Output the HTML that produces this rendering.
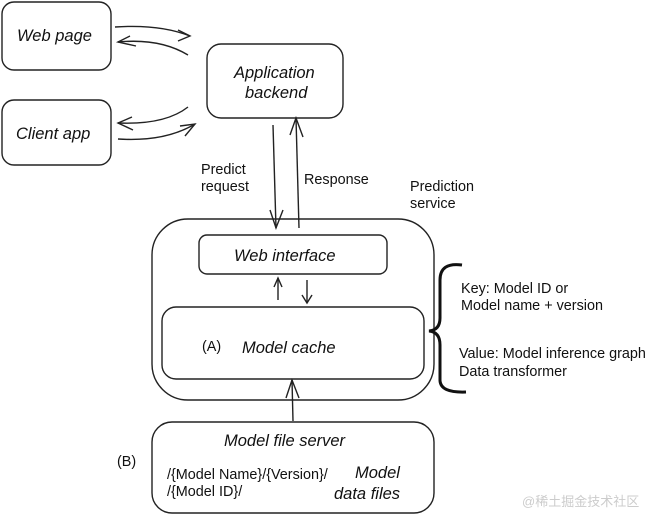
<!DOCTYPE html>
<html><head><style>
html,body{margin:0;padding:0;background:#fff;}
svg{display:block;}
.h{font-family:"Liberation Sans",sans-serif;font-style:italic;font-size:16.5px;fill:#111;}
.t{font-family:"Liberation Sans",sans-serif;font-size:14.4px;fill:#111;}
</style></head><body>
<svg width="648" height="517" viewBox="0 0 648 517" xmlns="http://www.w3.org/2000/svg">
<g fill="none" stroke="#222" stroke-width="1.4">
<rect x="2" y="2" width="109" height="68" rx="12"/>
<rect x="2" y="100" width="109" height="65" rx="12"/>
<rect x="207" y="44" width="136" height="74" rx="14"/>
<rect x="152" y="219" width="282" height="181" rx="36"/>
<rect x="199" y="235" width="188" height="39" rx="8"/>
<rect x="162" y="307" width="262" height="72" rx="14"/>
<rect x="152" y="422" width="282" height="91" rx="20"/>
<path d="M115 27 Q160 24 190 36"/><path d="M178 30 L190 36 L178 41"/>
<path d="M188 55 Q160 38 118 42"/><path d="M130 36 L118 42 L136 46"/>
<path d="M188 107 Q165 125 118 123"/><path d="M132 117 L118 123 L133 130"/>
<path d="M118 139 Q165 142 195 124"/><path d="M180 126 L195 124 L185 136"/>
<path d="M273 125 L276 228"/><path d="M270 210 L276 228 L283 210"/>
<path d="M299 228 L296 118"/><path d="M290 135 L296 118 L303 137"/>
<path d="M278 300 L278 278"/><path d="M274 287 L278 278 L282 287"/>
<path d="M307 280 L307 303"/><path d="M302 295 L307 303 L312 295"/>
<path d="M293 421 L292 380"/><path d="M286 398 L292 380 L299 398"/>
</g>
<path d="M462 265 Q440 262 440 280 L440 318 Q440 330 429 331 Q440 332 440 345 L440 380 Q440 393 466 392" fill="none" stroke="#111" stroke-width="3"/>
<text class="h" x="17" y="41">Web page</text>
<text class="h" x="16" y="139">Client app</text>
<text class="h" x="234" y="78">Application</text>
<text class="h" x="245" y="98">backend</text>
<text class="h" x="234" y="261">Web interface</text>
<text class="t" x="202" y="351">(A)</text>
<text class="h" x="242" y="353">Model cache</text>
<text class="h" x="224" y="446">Model file server</text>
<text class="h" x="355" y="478">Model</text>
<text class="h" x="334" y="499">data files</text>
<text class="t" x="167" y="479">/{Model Name}/{Version}/</text>
<text class="t" x="167" y="496">/{Model ID}/</text>
<text class="t" x="117" y="466">(B)</text>
<text class="t" x="201" y="174">Predict</text>
<text class="t" x="201" y="191">request</text>
<text class="t" x="304" y="184">Response</text>
<text class="t" x="410" y="191">Prediction</text>
<text class="t" x="410" y="208">service</text>
<text class="t" x="461" y="293">Key: Model ID or</text>
<text class="t" x="461" y="310">Model name + version</text>
<text class="t" x="459" y="358">Value: Model inference graph</text>
<text class="t" x="459" y="376">Data transformer</text>
<text x="522" y="506" style="font-family:'Liberation Sans','Noto Sans CJK SC',sans-serif;font-size:13px;fill:#ccc">@稀土掘金技术社区</text>
</svg>
</body></html>
